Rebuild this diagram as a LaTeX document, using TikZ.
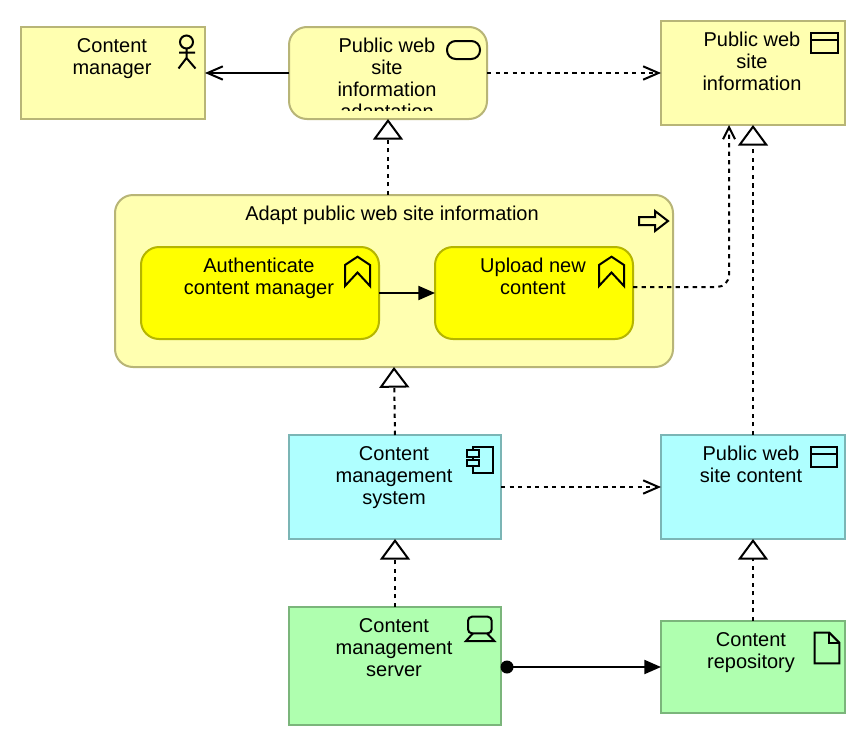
\documentclass[tikz,border=0pt]{standalone}
\usepackage{fontspec}
\setmainfont{Liberation Sans}
\usetikzlibrary{arrows.meta,calc}
\definecolor{yfill}{HTML}{FFFFB0}
\definecolor{yline}{HTML}{B8B577}
\definecolor{strong}{HTML}{FFFF00}
\definecolor{strongline}{HTML}{B5B500}
\definecolor{cfill}{HTML}{AFFFFF}
\definecolor{cline}{HTML}{7BB5B5}
\definecolor{gfill}{HTML}{AFFFAF}
\definecolor{gline}{HTML}{7BB57B}
\tikzset{
  x=0.75pt,y=-0.75pt,
  box/.style={draw,line width=1.5pt,inner sep=0pt,outer sep=0pt,rectangle},
  biz/.style={box,draw=yline,fill=yfill},
  app/.style={box,draw=cline,fill=cfill},
  tech/.style={box,draw=gline,fill=gfill},
  stg/.style={box,draw=strongline,fill=strong},
  soft/.style={rounded corners=13.5pt},
  txt/.style={anchor=north,inner sep=0pt,align=center,font=\fontsize{15}{16.5}\selectfont},
  icon/.style={draw=black,line width=1.5pt,fill=none},
  conn/.style={draw=black,line width=1.5pt},
  dotted line/.style={conn,dash pattern=on 3.2pt off 3.2pt},
  realize/.style={dotted line,-{Triangle[length=15.5pt,width=22.5pt,fill=white,line width=1.5pt]}},
  openhead/.style={-{Straight Barb[length=11.5pt,width=10pt,line width=1.5pt]}},
  narrowhead/.style={-{Straight Barb[length=9pt,width=9pt,line width=1.5pt]}},
  solidhead/.style={-{Triangle[length=12.5pt,width=10.5pt]}},
}
\begin{document}
\begin{tikzpicture}
\useasboundingbox[fill=white] (0,0) rectangle (866,746);

% boxes
\node[biz,minimum width=138pt,minimum height=69pt] (mgr) at (113,73) {};
\node[biz,soft,minimum width=148.5pt,minimum height=69pt] (svc) at (388,73) {};
\node[biz,minimum width=138pt,minimum height=78pt] (pwsi) at (753,73) {};
\node[biz,soft,minimum width=418.5pt,minimum height=129pt] (proc) at (394,281) {};
\node[stg,soft,minimum width=178.5pt,minimum height=69pt] (auth) at (260,293) {};
\node[stg,soft,minimum width=148.5pt,minimum height=69pt] (up) at (534,293) {};
\node[app,minimum width=159pt,minimum height=78pt] (cms) at (395,487) {};
\node[app,minimum width=138pt,minimum height=78pt] (pwsc) at (753,487) {};
\node[tech,minimum width=159pt,minimum height=88.5pt] (srv) at (395,666) {};
\node[tech,minimum width=138pt,minimum height=69pt] (repo) at (753,667) {};

% texts
\node[txt] (mgrt) at (112,36.5) {\strut Content\\manager};
\begin{scope}
\clip (289,27) rectangle (487,110);
\node[txt] (svct) at (387,36.5) {\strut Public web\\site\\information\\adaptation};
\end{scope}
\node[txt] (pwsit) at (752,30.5) {\strut Public web\\site\\information};
\node[txt] (proct) at (392,204.5) {\strut Adapt public web site information};
\node[txt] (autht) at (259,256.5) {\strut Authenticate\\content manager};
\node[txt] (upt) at (533,256.5) {\strut Upload new\\content};
\node[txt] (cmst) at (394,444.5) {\strut Content\\management\\system};
\node[txt] (pwsct) at (751,444.5) {\strut Public web\\site content};
\node[txt] (srvt) at (394,616.5) {\strut Content\\management\\server};
\node[txt] (repot) at (751,630.5) {\strut Content\\repository};

% icons
\draw[icon] (186.5,42) circle (6.5);
\draw[icon] (186.5,48.5) -- (186.5,58) (179,52.7) -- (195,52.7) (178.5,68.5) -- (186.5,58) -- (195.5,68.5);
\draw[icon,rounded corners=6.5pt] (447,41) rectangle (480,59);
\draw[icon] (811,33) rectangle (838,53) (811,40) -- (838,40);
\draw[icon] (639,217) -- (655,217) -- (655,211) -- (668,221) -- (655,231) -- (655,225) -- (639,225) -- cycle;
\draw[icon] (345,265) -- (357.5,256.7) -- (370,265) -- (370,286) -- (357.5,272.5) -- (345,286) -- cycle;
\draw[icon] (599,265) -- (611.5,256.7) -- (624,265) -- (624,286) -- (611.5,272.5) -- (599,286) -- cycle;
\draw[icon] (473,446.7) rectangle (493.3,473.3);
\draw[icon,fill=cfill] (467,450) rectangle (479,457.3) (467,460) rectangle (479,466);
\draw[icon] (811,446.7) rectangle (837.3,467.3) (811,454) -- (837.3,454);
\draw[icon,rounded corners=3pt] (468,633.3) -- (468,616.7) -- (491.7,616.7) -- (491.7,633.3) -- cycle;
\draw[icon] (473,633.3) -- (466,641) -- (494.3,641) -- (487,633.3);
\draw[icon] (814.7,632.7) -- (829.3,632.7) -- (839.3,642.7) -- (839.3,663.3) -- (814.7,663.3) -- cycle;
\draw[icon] (829.3,632.7) -- (829.3,642.7) -- (839.3,642.7);

% connector ends
\coordinate (upout) at (633,287);
\coordinate (pwsiin) at (729,125);
\coordinate (srvout) at (507,667);

% connectors
\draw[conn,openhead] (svc.west) -- (mgr.east);
\draw[dotted line,openhead] (svc.east) -- (pwsi.west);
\draw[realize] (svc.south |- proc.north) -- (svc.south);
\draw[conn,solidhead] (auth.east) -- (up.west);
\draw[dotted line,narrowhead,rounded corners=9pt] (upout) -| (pwsiin);
\draw[realize] (pwsc.north) -- (pwsi.south);
\draw[realize] (cms.north) -- (proc.south);
\draw[dotted line,openhead] (cms.east) -- (pwsc.west);
\draw[realize] (srv.north) -- (cms.south);
\draw[realize] (repo.north) -- (pwsc.south);
\fill[black] (srvout) circle (6.5);
\draw[conn,solidhead] (srvout) -- (repo.west);
\end{tikzpicture}
\end{document}
